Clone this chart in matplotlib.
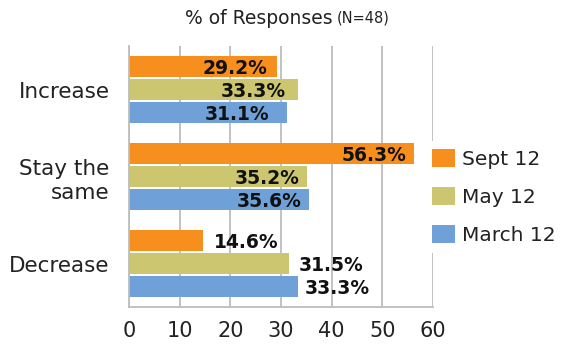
import matplotlib.pyplot as plt
import numpy as np

# survey answers, percent of responses
categories = ['Increase', 'Stay the\nsame', 'Decrease']
series_names = ['Sept 12', 'May 12', 'March 12']
sept_12 = [29.2, 56.3, 14.6]
may_12 = [33.3, 35.2, 31.5]
march_12 = [31.1, 35.6, 33.3]
x_ticks = [0, 10, 20, 30, 40, 50, 60]

colors = ['#F78F1E', '#CBC66F', '#6FA0D8']
# label nudges in pixels (negative = inside bar end, right aligned)
label_dx = [[-10, -8, 11], [-12, -8, 10], [-17, -8, 7]]

fig = plt.figure(figsize=(5.74, 3.49), dpi=100)
ax = fig.add_axes([129 / 574, 1 - 307 / 349, 304 / 574, 261 / 349])

y = np.arange(len(categories))
bar_h = 0.24
step = 0.265
all_series = [sept_12, may_12, march_12]

for i, (vals, name, col) in enumerate(zip(all_series, series_names, colors)):
    ypos = y + (i - 1) * step
    ax.barh(ypos, vals, height=bar_h, color=col, label=name, zorder=2)
    for j, v in enumerate(vals):
        dx = label_dx[i][j]
        ax.annotate(f'{v:.1f}%', xy=(v, ypos[j]),
                    xytext=(dx * 0.72, -1.5), textcoords='offset points',
                    ha='right' if dx < 0 else 'left', va='center',
                    fontsize=13.5, fontweight='bold', color='#111111', zorder=3)

ax.set_xlim(0, 60)
ax.set_ylim(2.5, -0.5)
ax.set_yticks(y)
ax.set_yticklabels(categories, fontsize=15.5, color='#222222', linespacing=1.25)
ax.set_xticks(x_ticks)
ax.set_xticklabels([str(t) for t in x_ticks], fontsize=15, color='#222222')
ax.tick_params(axis='y', length=0, pad=14)
ax.tick_params(axis='x', length=0, pad=10)

ax.set_axisbelow(True)
ax.grid(axis='x', color='#BDBDBD', linewidth=1.3, zorder=0)
for side in ['top', 'right']:
    ax.spines[side].set_visible(False)
for side in ['left', 'bottom']:
    ax.spines[side].set_color('#BDBDBD')
    ax.spines[side].set_linewidth(1.3)

leg = fig.legend(loc='center left', bbox_to_anchor=(424 / 574, 1 - 197 / 349),
                 frameon=True, fontsize=14.5, handlelength=1.15, handleheight=1.0,
                 handletextpad=0.35, labelspacing=0.9, borderpad=0.4,
                 borderaxespad=0)
leg.get_frame().set_facecolor('white')
leg.get_frame().set_edgecolor('none')
leg.get_frame().set_alpha(1)
leg.get_frame().set_boxstyle('square', pad=0)
for t in leg.get_texts():
    t.set_color('#222222')

fig.text(333 / 574, 1 - 18 / 349, '% of Responses', ha='right', va='center',
         fontsize=13.5, color='#222222')
fig.text(337 / 574, 1 - 18 / 349, '(N=48)', ha='left', va='center',
         fontsize=10.5, color='#222222')

fig.savefig('out.png', dpi=100)
